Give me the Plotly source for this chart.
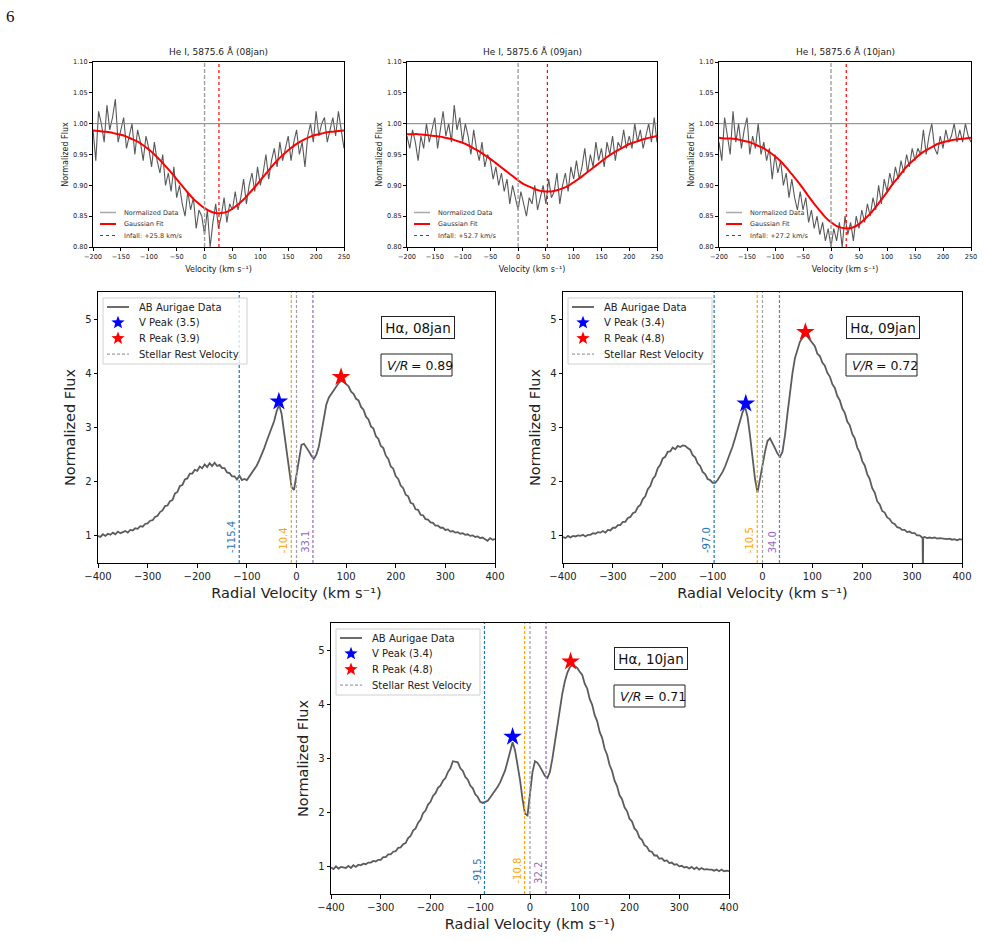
import math
import plotly.graph_objects as go

W, H = 984, 942
FONT = "DejaVu Sans"

# ---------------- data ----------------
DATES = ["08jan", "09jan", "10jan"]

HEI_VEL = list(range(-200, 251, 5))
HEI_FLUX_08 = [0.99, 0.94, 1.02, 1.00, 0.97, 1.03, 0.99, 1.01, 1.04, 0.97,
               0.99, 1.01, 0.96, 0.98, 1.00, 0.95, 0.99, 0.97, 0.94, 0.98,
               0.96, 0.93, 0.97, 0.94, 0.92, 0.95, 0.90, 0.92, 0.89, 0.93,
               0.88, 0.90, 0.87, 0.85, 0.89, 0.86, 0.88, 0.83, 0.86, 0.85,
               0.82, 0.86, 0.80, 0.84, 0.87, 0.83, 0.85, 0.88, 0.84, 0.87,
               0.86, 0.89, 0.86, 0.88, 0.91, 0.87, 0.90, 0.92, 0.89, 0.93,
               0.90, 0.92, 0.95, 0.91, 0.94, 0.96, 0.93, 0.97, 0.94, 0.96,
               0.98, 0.94, 0.97, 0.99, 0.95, 0.97, 0.93, 0.98, 1.00, 0.97,
               1.02, 0.98, 1.00, 1.01, 0.97, 0.99, 1.01, 0.98, 1.02, 0.99,
               0.96]
HEI_FLUX_09 = [0.98, 0.96, 0.99, 0.97, 0.94, 0.98, 0.96, 1.00, 0.97, 0.99,
               1.01, 0.96, 0.99, 1.02, 0.98, 1.00, 0.97, 1.03, 0.99, 1.01,
               0.97, 1.00, 0.98, 0.95, 0.99, 0.96, 0.94, 0.97, 0.93, 0.95,
               0.94, 0.91, 0.93, 0.90, 0.92, 0.89, 0.91, 0.87, 0.90, 0.88,
               0.86, 0.89, 0.87, 0.85, 0.88, 0.87, 0.90, 0.86, 0.88, 0.90,
               0.87, 0.91, 0.88, 0.89, 0.92, 0.87, 0.90, 0.92, 0.89, 0.93,
               0.91, 0.94, 0.91, 0.93, 0.96, 0.92, 0.95, 0.93, 0.97, 0.94,
               0.96, 0.93, 0.97, 0.95, 0.98, 0.94, 0.97, 0.96, 0.99, 0.96,
               0.98, 0.96, 1.00, 0.97, 0.99, 0.96, 0.98, 1.00, 0.97, 1.01,
               0.97]
HEI_FLUX_10 = [0.97, 0.94, 1.01, 0.98, 0.95, 1.02, 0.97, 1.00, 0.96, 0.99,
               1.01, 0.95, 0.98, 0.96, 1.00, 0.95, 0.97, 0.94, 0.96, 0.91,
               0.95, 0.92, 0.94, 0.90, 0.92, 0.88, 0.91, 0.88, 0.86, 0.89,
               0.86, 0.88, 0.84, 0.86, 0.83, 0.85, 0.82, 0.84, 0.81, 0.83,
               0.80, 0.83, 0.81, 0.84, 0.80, 0.85, 0.82, 0.84, 0.81, 0.85,
               0.83, 0.86, 0.84, 0.87, 0.85, 0.88, 0.86, 0.90, 0.87, 0.91,
               0.89, 0.92, 0.90, 0.93, 0.91, 0.94, 0.92, 0.95, 0.93, 0.96,
               0.94, 0.96, 0.95, 0.99, 0.95, 0.98, 1.00, 0.96, 0.95, 0.98,
               0.96, 0.99, 0.97, 0.98, 1.00, 0.97, 0.99, 0.97, 1.00, 0.98,
               0.97]

HEI_FIT_VEL = list(range(-200, 251, 10))
HEI_FIT_08 = [0.989, 0.988, 0.987, 0.986, 0.984, 0.982, 0.979, 0.975, 0.971, 0.965,
              0.958, 0.950, 0.941, 0.931, 0.921, 0.910, 0.899, 0.888, 0.878, 0.870,
              0.863, 0.858, 0.855, 0.855, 0.857, 0.862, 0.869, 0.877, 0.887, 0.897,
              0.908, 0.919, 0.930, 0.940, 0.949, 0.957, 0.964, 0.970, 0.975, 0.979,
              0.982, 0.984, 0.986, 0.987, 0.988, 0.989]
HEI_FIT_09 = [0.983, 0.983, 0.983, 0.982, 0.981, 0.980, 0.979, 0.977, 0.975, 0.972,
              0.969, 0.965, 0.960, 0.955, 0.949, 0.943, 0.936, 0.929, 0.922, 0.915,
              0.908, 0.902, 0.898, 0.894, 0.891, 0.890, 0.890, 0.892, 0.895, 0.899,
              0.905, 0.911, 0.918, 0.925, 0.932, 0.939, 0.946, 0.952, 0.957, 0.962,
              0.967, 0.970, 0.973, 0.976, 0.978, 0.980]
HEI_FIT_10 = [0.977, 0.976, 0.976, 0.975, 0.973, 0.971, 0.968, 0.964, 0.960, 0.954,
              0.947, 0.939, 0.929, 0.918, 0.907, 0.895, 0.882, 0.870, 0.859, 0.848,
              0.840, 0.834, 0.831, 0.830, 0.832, 0.837, 0.845, 0.854, 0.865, 0.877,
              0.889, 0.902, 0.913, 0.925, 0.935, 0.943, 0.951, 0.957, 0.962, 0.967,
              0.970, 0.972, 0.974, 0.975, 0.976, 0.977]
HEI_INFALL = [25.8, 52.7, 27.2]

HA_VEL = list(range(-400, 401, 5))
HA_FLUX_08 = [1.00, 0.98, 1.03, 1.00, 1.04, 1.02, 1.06, 1.03, 1.08, 1.05,
              1.07, 1.09, 1.06, 1.11, 1.10, 1.14, 1.13, 1.18, 1.17, 1.22, 1.23,
              1.28, 1.29, 1.35, 1.37, 1.44, 1.47, 1.55, 1.56, 1.64, 1.66,
              1.78, 1.81, 1.92, 1.94, 2.04, 2.06, 2.15, 2.15, 2.22, 2.20,
              2.28, 2.25, 2.32, 2.27, 2.34, 2.29, 2.35, 2.29, 2.31, 2.25,
              2.25, 2.17, 2.16, 2.10, 2.10, 2.04, 2.11, 2.03, 2.05, 2.03,
              2.10, 2.15, 2.22, 2.30, 2.40, 2.50, 2.62, 2.75, 2.88, 3.00,
              3.12, 3.30, 3.42, 3.25, 2.90, 2.55, 2.20, 1.90, 1.85, 2.15,
              2.45, 2.68, 2.70, 2.64, 2.56, 2.48, 2.42, 2.50, 2.65, 2.90,
              3.20, 3.42, 3.55, 3.62, 3.68, 3.74, 3.82, 3.86, 3.84, 3.80,
              3.76, 3.66, 3.62, 3.53, 3.50, 3.38, 3.33, 3.20, 3.15, 3.02,
              2.98, 2.84, 2.79, 2.66, 2.62, 2.48, 2.42, 2.28, 2.24, 2.10,
              2.05, 1.93, 1.88, 1.76, 1.73, 1.61, 1.59, 1.49, 1.48, 1.39,
              1.38, 1.31, 1.30, 1.25, 1.24, 1.19, 1.19, 1.15, 1.15, 1.11,
              1.12, 1.08, 1.09, 1.06, 1.07, 1.04, 1.05, 1.02, 1.03, 1.00,
              1.01, 0.98, 0.99, 0.96, 0.97, 0.94, 0.91, 0.96, 0.93, 0.94]
HA_FLUX_09 = [0.98, 0.96, 1.00, 0.97, 1.00, 0.99, 1.01, 1.00, 1.02, 0.99,
              1.02, 1.02, 1.05, 1.04, 1.07, 1.06, 1.09, 1.06, 1.11, 1.10, 1.15,
              1.15, 1.20, 1.20, 1.26, 1.26, 1.33, 1.35, 1.42, 1.44, 1.53,
              1.57, 1.68, 1.73, 1.86, 1.92, 2.05, 2.11, 2.25, 2.31, 2.43,
              2.46, 2.55, 2.56, 2.63, 2.60, 2.66, 2.64, 2.67, 2.66, 2.62,
              2.59, 2.49, 2.45, 2.34, 2.29, 2.18, 2.14, 2.05, 2.03, 1.98,
              1.98, 2.03, 2.10, 2.18, 2.28, 2.40, 2.52, 2.65, 2.80, 2.95,
              3.10, 3.28, 3.38, 3.20, 2.85, 2.45, 2.05, 1.80, 2.02, 2.30,
              2.55, 2.75, 2.80, 2.72, 2.62, 2.52, 2.46, 2.55, 2.85, 3.25,
              3.65, 4.00, 4.28, 4.45, 4.58, 4.65, 4.70, 4.68, 4.62, 4.57,
              4.50, 4.36, 4.32, 4.20, 4.14, 4.01, 3.94, 3.80, 3.73, 3.58,
              3.50, 3.35, 3.27, 3.11, 3.04, 2.88, 2.80, 2.63, 2.54, 2.38,
              2.30, 2.14, 2.05, 1.88, 1.80, 1.64, 1.58, 1.46, 1.43, 1.34,
              1.31, 1.24, 1.22, 1.16, 1.15, 1.11, 1.11, 1.07, 1.08, 1.05,
              1.05, 1.01, 1.01, 0.97, 0.98, 0.96, 0.97, 0.96, 0.97, 0.95,
              0.96, 0.95, 0.95, 0.94, 0.95, 0.93, 0.94, 0.92, 0.94, 0.93]
HA_SPIKE09_VEL = [321.0, 321.6, 322.2]
HA_SPIKE09_FLUX = [0.97, 0.20, 0.97]
HA_FLUX_10 = [0.99, 0.96, 1.01, 0.97, 1.00, 0.99, 0.98, 1.02, 0.98, 1.03,
              1.00, 1.04, 1.03, 1.06, 1.05, 1.08, 1.08, 1.11, 1.10, 1.13, 1.13,
              1.18, 1.18, 1.23, 1.23, 1.28, 1.29, 1.35, 1.36, 1.42, 1.44,
              1.53, 1.57, 1.67, 1.71, 1.81, 1.87, 1.99, 2.04, 2.15, 2.20,
              2.31, 2.36, 2.46, 2.50, 2.59, 2.64, 2.75, 2.82, 2.95, 2.94,
              2.93, 2.82, 2.77, 2.66, 2.61, 2.50, 2.45, 2.34, 2.29, 2.20,
              2.18, 2.20, 2.22, 2.28, 2.34, 2.40, 2.48, 2.56, 2.66, 2.78,
              2.95, 3.15, 3.30, 3.15, 2.90, 2.60, 2.25, 1.98, 1.95, 2.40,
              2.75, 2.95, 2.92, 2.85, 2.76, 2.68, 2.64, 2.75, 3.00, 3.30,
              3.63, 3.95, 4.20, 4.42, 4.58, 4.68, 4.73, 4.70, 4.67, 4.60,
              4.54, 4.38, 4.29, 4.10, 3.99, 3.80, 3.69, 3.49, 3.38, 3.18,
              3.07, 2.88, 2.77, 2.59, 2.49, 2.32, 2.25, 2.10, 2.03, 1.89,
              1.84, 1.71, 1.66, 1.54, 1.50, 1.40, 1.37, 1.29, 1.28, 1.21,
              1.21, 1.15, 1.16, 1.11, 1.12, 1.07, 1.08, 1.04, 1.05, 1.01,
              1.02, 0.99, 1.00, 0.97, 1.00, 0.96, 0.99, 0.95, 0.98, 0.95,
              0.96, 0.95, 0.95, 0.93, 0.95, 0.92, 0.95, 0.92, 0.93, 0.92]

HA_VPEAK_VEL = [-35.5, -33.5, -35.0]
HA_VPEAK_FLUX = [3.48, 3.44, 3.40]
HA_RPEAK_VEL = [89.8, 86.0, 81.5]
HA_RPEAK_FLUX = [3.93, 4.76, 4.79]
HA_VR = [0.89, 0.72, 0.71]
HA_MARK_BLUE = [-115.4, -97.0, -91.5]
HA_MARK_ORANGE = [-10.4, -10.5, -10.8]
HA_MARK_PURPLE = [33.1, 34.0, 32.2]

# ---------------- layout geometry (pixels) ----------------
TOP_X = [(93, 344), (407, 657), (719, 971)]
TOP_Y = (62, 247)
HA_BOX = [((98, 495), (292, 563)), ((563, 962), (292, 563)), ((331, 729), (623, 894))]


def px(x):
    return x / W


def py(y):
    return 1 - y / H


def star_path(cx, cy, R=7.0, ratio=0.42):
    pts = []
    for k in range(10):
        ang = math.radians(-90 + 36 * k)
        rr = R if k % 2 == 0 else R * ratio
        pts.append((px(cx + rr * math.cos(ang)), py(cy + rr * math.sin(ang))))
    return "M " + " L ".join(f"{a:.5f},{b:.5f}" for a, b in pts) + " Z"


fig = go.Figure()
shapes = []
annotations = []
layout_axes = {}


def axkeys(n):
    return ("x" if n == 1 else f"x{n}"), ("y" if n == 1 else f"y{n}")


# ---------------- He I panels ----------------
hei_flux = [HEI_FLUX_08, HEI_FLUX_09, HEI_FLUX_10]
hei_fit = [HEI_FIT_08, HEI_FIT_09, HEI_FIT_10]
for i in range(3):
    n = i + 1
    xa, ya = axkeys(n)
    (x0, x1), (y0, y1) = TOP_X[i], TOP_Y
    fig.add_trace(go.Scatter(x=HEI_VEL, y=hei_flux[i], mode="lines",
                             line=dict(color="rgba(60,60,60,0.85)", width=1.1),
                             xaxis=xa, yaxis=ya, showlegend=False, name="Normalized Data"))
    fig.add_trace(go.Scatter(x=HEI_FIT_VEL, y=hei_fit[i], mode="lines",
                             line=dict(color="#ff0000", width=2, shape="spline"),
                             xaxis=xa, yaxis=ya, showlegend=False, name="Gaussian Fit"))
    common = dict(showline=True, mirror=True, linecolor="black", linewidth=1,
                  ticks="outside", ticklen=3, tickwidth=1, tickcolor="black",
                  showgrid=False, zeroline=False, automargin=False,
                  tickfont=dict(family=FONT, size=6.6, color="#222"))
    layout_axes["xaxis" if n == 1 else f"xaxis{n}"] = dict(
        domain=[px(x0), px(x1)], anchor=ya, range=[-200, 250], dtick=50, tick0=0,
        title=dict(text="Velocity (km s⁻¹)", font=dict(family=FONT, size=8, color="#222"), standoff=6),
        **common)
    layout_axes["yaxis" if n == 1 else f"yaxis{n}"] = dict(
        domain=[py(y1), py(y0)], anchor=xa, range=[0.80, 1.10], dtick=0.05, tick0=0.8,
        tickformat=".2f",
        title=dict(text="Normalized Flux", font=dict(family=FONT, size=8, color="#222"), standoff=3),
        **common)
    # reference lines
    shapes.append(dict(type="line", xref=f"{xa} domain", yref=ya, x0=0, x1=1, y0=1.0, y1=1.0,
                       line=dict(color="#808080", width=1), layer="above"))
    shapes.append(dict(type="line", xref=xa, yref=f"{ya} domain", x0=0, x1=0, y0=0, y1=1,
                       line=dict(color="#a0a0a0", width=1.4, dash="4px,2px"), layer="above"))
    shapes.append(dict(type="line", xref=xa, yref=f"{ya} domain", x0=HEI_INFALL[i], x1=HEI_INFALL[i],
                       y0=0, y1=1, line=dict(color="#ff0000", width=1.2, dash="dot"), layer="above"))
    # title
    annotations.append(dict(x=px((x0 + x1) / 2), y=py(52), xref="paper", yref="paper",
                            xanchor="center", yanchor="middle",
                            text=f"He I, 5875.6 Å ({DATES[i]})", showarrow=False,
                            font=dict(family=FONT, size=9, color="#222")))
    # legend (manual)
    rows = [212.5, 224, 235.5]
    samples = [dict(color="#a8a8a8", width=1.5), dict(color="#ff0000", width=2),
               dict(color="#ff0000", width=1.2, dash="dot")]
    labels = ["Normalized Data", "Gaussian Fit", f"Infall: +{HEI_INFALL[i]:.1f} km/s"]
    for r, s, lab in zip(rows, samples, labels):
        shapes.append(dict(type="line", xref="paper", yref="paper", x0=px(x0 + 7), x1=px(x0 + 23),
                           y0=py(r), y1=py(r), line=s, layer="above"))
        annotations.append(dict(x=px(x0 + 29), y=py(r), xref="paper", yref="paper", text=lab,
                                showarrow=False, xanchor="left", yanchor="middle",
                                font=dict(family=FONT, size=6.5, color="#333")))

# ---------------- H-alpha panels ----------------
ha09_pts = sorted(list(zip(HA_VEL, HA_FLUX_09)) + list(zip(HA_SPIKE09_VEL, HA_SPIKE09_FLUX)))
ha_x = [HA_VEL, [p[0] for p in ha09_pts], HA_VEL]
ha_y = [HA_FLUX_08, [p[1] for p in ha09_pts], HA_FLUX_10]
COL_BLUE, COL_ORANGE, COL_PURPLE, COL_GRAY = "#1f77b4", "#ffa500", "#9467bd", "#a0a0a0"

for i in range(3):
    n = i + 4
    xa, ya = axkeys(n)
    (x0, x1), (y0, y1) = HA_BOX[i]
    fig.add_trace(go.Scatter(x=ha_x[i], y=ha_y[i], mode="lines",
                             line=dict(color="#5c5c5c", width=1.8),
                             xaxis=xa, yaxis=ya, showlegend=False, name="AB Aurigae Data"))
    common = dict(showline=True, mirror=True, linecolor="black", linewidth=1,
                  ticks="outside", ticklen=3.5, tickwidth=1, tickcolor="black",
                  showgrid=False, zeroline=False, automargin=False,
                  tickfont=dict(family=FONT, size=10, color="#222"))
    layout_axes[f"xaxis{n}"] = dict(
        domain=[px(x0), px(x1)], anchor=ya, range=[-400, 400], dtick=100, tick0=0,
        title=dict(text="Radial Velocity (km s⁻¹)", font=dict(family=FONT, size=14.5, color="#222"),
                   standoff=7),
        **common)
    layout_axes[f"yaxis{n}"] = dict(
        domain=[py(y1), py(y0)], anchor=xa, range=[0.5, 5.5], tickvals=[1, 2, 3, 4, 5],
        title=dict(text="Normalized Flux", font=dict(family=FONT, size=14.5, color="#222"), standoff=6),
        **common)
    # vertical markers
    for val, col in [(HA_MARK_BLUE[i], COL_BLUE), (HA_MARK_ORANGE[i], COL_ORANGE),
                     (0.0, COL_GRAY), (HA_MARK_PURPLE[i], COL_PURPLE)]:
        shapes.append(dict(type="line", xref=xa, yref=f"{ya} domain", x0=val, x1=val, y0=0, y1=1,
                           line=dict(color=col, width=1.2, dash="3px,2px"), layer="above"))
    for val, col in [(HA_MARK_BLUE[i], COL_BLUE), (HA_MARK_ORANGE[i], COL_ORANGE),
                     (HA_MARK_PURPLE[i], COL_PURPLE)]:
        annotations.append(dict(x=val, y=0.03, xref=xa, yref=f"{ya} domain", text=f"{val:.1f}",
                                textangle=-90, xanchor="center", yanchor="bottom", xshift=-7,
                                showarrow=False, font=dict(family=FONT, size=10, color=col)))
    # peak stars
    fig.add_trace(go.Scatter(x=[HA_VPEAK_VEL[i]], y=[HA_VPEAK_FLUX[i]], mode="markers",
                             marker=dict(symbol="star", size=14, color="blue", line=dict(width=0)),
                             xaxis=xa, yaxis=ya, showlegend=False, name="V Peak"))
    fig.add_trace(go.Scatter(x=[HA_RPEAK_VEL[i]], y=[HA_RPEAK_FLUX[i]], mode="markers",
                             marker=dict(symbol="star", size=14, color="red", line=dict(width=0)),
                             xaxis=xa, yaxis=ya, showlegend=False, name="R Peak"))
    # text boxes
    annotations.append(dict(x=px(x0 + 283), y=py(y0 + 35), xref="paper", yref="paper",
                            text=f"Hα, {DATES[i]}", showarrow=False, xanchor="left", yanchor="middle",
                            width=70, height=19, borderpad=1, borderwidth=1, bordercolor="#222",
                            bgcolor="white", font=dict(family=FONT, size=13.5, color="#111")))
    bx0, by0 = x0 + 283, y0 + 62
    shapes.append(dict(type="rect", xref="paper", yref="paper", x0=px(bx0), x1=px(bx0 + 71),
                       y0=py(by0), y1=py(by0 + 22), fillcolor="white",
                       line=dict(color="#222", width=1), layer="above"))
    annotations.append(dict(x=px(bx0 + 4), y=py(by0 + 11), xref="paper", yref="paper",
                            text="V/R", showarrow=False, xanchor="left", yanchor="middle",
                            font=dict(family=FONT, size=12.5, color="#111", style="italic")))
    annotations.append(dict(x=px(bx0 + 28), y=py(by0 + 11), xref="paper", yref="paper",
                            text=f"= {HA_VR[i]:.2f}", showarrow=False, xanchor="left", yanchor="middle",
                            font=dict(family=FONT, size=12.5, color="#111")))
    # legend (manual)
    shapes.append(dict(type="rect", xref="paper", yref="paper", x0=px(x0 + 5), x1=px(x0 + 149),
                       y0=py(y0 + 6), y1=py(y0 + 72), fillcolor="rgba(255,255,255,0.8)",
                       line=dict(color="#d0d0d0", width=1), layer="above"))
    rows = [y0 + 15, y0 + 30.7, y0 + 46.4, y0 + 62.1]
    shapes.append(dict(type="line", xref="paper", yref="paper", x0=px(x0 + 9), x1=px(x0 + 31),
                       y0=py(rows[0]), y1=py(rows[0]), line=dict(color="#5c5c5c", width=1.8), layer="above"))
    shapes.append(dict(type="line", xref="paper", yref="paper", x0=px(x0 + 9), x1=px(x0 + 31),
                       y0=py(rows[3]), y1=py(rows[3]),
                       line=dict(color=COL_GRAY, width=1.2, dash="3px,2px"), layer="above"))
    for r, col in [(rows[1], "blue"), (rows[2], "red")]:
        shapes.append(dict(type="path", xref="paper", yref="paper", path=star_path(x0 + 20, r),
                           fillcolor=col, line=dict(width=0), layer="above"))
    labels = ["AB Aurigae Data", f"V Peak ({HA_VPEAK_FLUX[i]:.1f})",
              f"R Peak ({HA_RPEAK_FLUX[i]:.1f})", "Stellar Rest Velocity"]
    for r, lab in zip(rows, labels):
        annotations.append(dict(x=px(x0 + 39), y=py(r), xref="paper", yref="paper", text=lab,
                                showarrow=False, xanchor="left", yanchor="middle",
                                font=dict(family=FONT, size=10, color="#222")))

# page number
annotations.append(dict(x=px(4), y=py(17), xref="paper", yref="paper", text="6", showarrow=False,
                        xanchor="left", yanchor="middle",
                        font=dict(family="Liberation Serif", size=17, color="#111")))

fig.update_layout(width=W, height=H, margin=dict(l=0, r=0, t=0, b=0, pad=0, autoexpand=False),
                  paper_bgcolor="white", plot_bgcolor="rgba(0,0,0,0)",
                  shapes=shapes, annotations=annotations, showlegend=False,
                  font=dict(family=FONT), **layout_axes)

fig.write_html("out.html")
